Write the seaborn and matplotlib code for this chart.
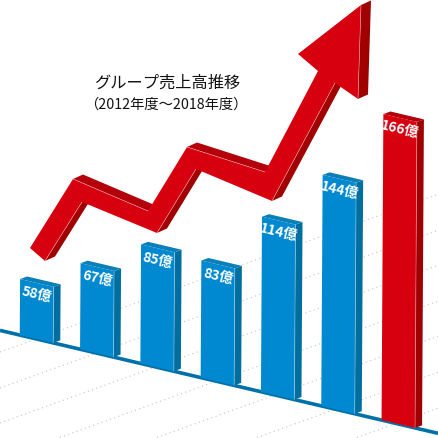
"""Group sales trend drawn as a slanted pseudo-3D bar chart with a rising arrow."""

import matplotlib
matplotlib.use('Agg')
import matplotlib.pyplot as plt
from matplotlib.transforms import Affine2D
import seaborn as sns

# Bar data: year, printed label, front-face height (px)
years = [2012, 2013, 2014, 2015, 2016, 2017, 2018]
labels = ['58億', '67億', '85億', '83億', '114億', '144億', '166億']
heights = [56, 86, 119, 117, 175, 231, 306]

# Dotted floor lines: y at the left edge of the picture
grid_intercepts = [352, 388, 423, 459, 494, 530, 566]
grid_x = [0, 438]

# Outline of the arrow, front face, in picture pixels
arrow_x = [30, 45, 82, 157, 196, 272, 335, 358, 361, 298, 318, 265, 187, 148, 73]
arrow_y = [248, 261, 202, 233, 169, 201, 83, 99, 5, 54, 71, 172, 147, 211, 179]
arrow_side_edges = [(1, 2), (3, 4), (5, 6), (7, 8)]
arrow_top_edges = [(14, 13), (12, 11)]

title = 'グループ売上高推移'
subtitle = '（2012年度～2018年度）'

BLUE = '#0089d0'
BLUE_SIDE = '#006f9f'
BLUE_TOP = '#0a7fb8'
RED = '#d7000f'
RED_SIDE = '#a00000'
RED_TOP = '#b4000a'

sns.set_style('white')
plt.rcParams['font.family'] = ['Noto Sans CJK JP', 'DejaVu Sans']

fig = plt.figure(figsize=(4.38, 4.38), dpi=100)
ax = fig.add_axes([0, 0, 1, 1])

bar_colors = [BLUE] * 6 + [RED]
side_colors = [BLUE_SIDE] * 6 + [RED_SIDE]
top_colors = [BLUE_TOP] * 6 + [RED_TOP]

# (year, height) -> slanted picture pixels
step = 60.3
slope = 0.235
x0 = 36.5 - 2012 * step
y0 = 330.4 + slope * x0
shear = Affine2D.from_values(step, slope * step, 0.006, -1, x0, y0)

sns.barplot(x=years, y=heights, hue=years, palette=bar_colors, native_scale=True,
            width=33.5 / step, dodge=False, legend=False, saturation=1, ax=ax)
ax.set_xlim(0, 438)
ax.set_ylim(438, 0)
ax.axis('off')

to_pixels = shear + ax.transData
half = 33.5 / step / 2
depth_x = 7 / step
depth_h = 4.2

for bar in ax.patches:
    bar.set_transform(to_pixels)
    bar.set_zorder(3)
    bar.set_linewidth(0)

for i, (year, h) in enumerate(zip(years, heights)):
    left, right = year - half, year + half
    ax.fill([right, right + depth_x, right + depth_x, right],
            [0, depth_h, h + depth_h, h],
            color=side_colors[i], lw=0, zorder=2.5, transform=to_pixels)
    ax.fill([left, left + depth_x, right + depth_x, right],
            [h, h + depth_h, h + depth_h, h],
            color=top_colors[i], lw=0, zorder=2.5, transform=to_pixels)
    # thin highlight on the front corner
    ax.plot([right, right], [0, h], color='white', alpha=0.45, lw=0.5, zorder=3.2,
            transform=to_pixels)
    ax.text(year, h - 12, labels[i], color='white', fontsize=10, fontweight='bold',
            rotation=-13.5, rotation_mode='anchor', ha='center', va='center',
            zorder=4, transform=to_pixels)

for c in grid_intercepts:
    ax.plot(grid_x, [c - 0.36 * x for x in grid_x], color='#c4c4c4', lw=0.8,
            linestyle=(0, (1, 3)), zorder=0.5)

# floor line, same slant as the bars' feet
ax.plot([2012 - 36.5 / step, 2012 + (438 - 36.5) / step], [0, 0], color='#0071a8',
        lw=2.6, solid_capstyle='butt', zorder=1, transform=to_pixels)

# arrow: extruded faces first, then the front
arrow_dx, arrow_dy = 10, -4.5
for edges, color in [(arrow_side_edges, RED_SIDE), (arrow_top_edges, RED_TOP)]:
    for a, b in edges:
        ax.fill([arrow_x[a], arrow_x[a] + arrow_dx, arrow_x[b] + arrow_dx, arrow_x[b]],
                [arrow_y[a], arrow_y[a] + arrow_dy, arrow_y[b] + arrow_dy, arrow_y[b]],
                color=color, lw=0, zorder=5)
ax.fill(arrow_x, arrow_y, color=RED, lw=0, zorder=6)
for a, b in arrow_side_edges + arrow_top_edges:
    ax.plot([arrow_x[a], arrow_x[b]], [arrow_y[a], arrow_y[b]], color='#f4a0a8',
            lw=0.4, zorder=7)

ax.text(167, 83, title, fontsize=11.7, color='#111111', ha='center', va='center', zorder=8)
ax.text(166, 105, subtitle, fontsize=10.3, color='#111111', ha='center', va='center', zorder=8)

fig.savefig('out.png', dpi=100, facecolor='white')
